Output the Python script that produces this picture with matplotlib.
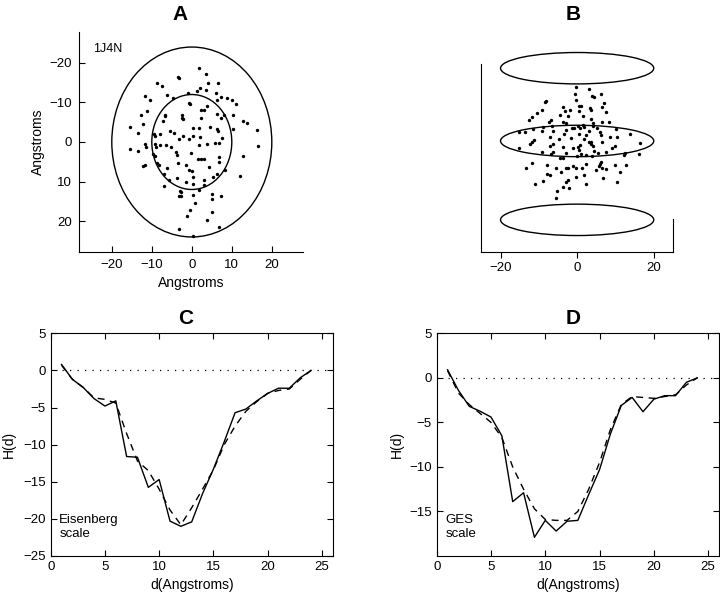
import matplotlib
matplotlib.use("Agg")
import matplotlib.pyplot as plt
from matplotlib.patches import Ellipse
import numpy as np

plt.rcParams['font.family'] = ['Liberation Sans', 'DejaVu Sans']

# panel A: projected residue positions (x, y) in Angstroms
a_x = [1.9, 3.6, -3.5, -8.6, -7.5, 4.0, 6.5, 2.1, 3.5, -6.3, 1.25, -0.9, 6.1, 7.25, 6.25,
       -11.6, -10.4, -4.6, 8.75, 10.0, 11.1, -0.4, -0.8, 2.4, 3.1, 3.75, 6.4, 8.1, 10.25,
       -11.1, -12.6, -6.8, -6.8, -7.1, -2.4, -2.4, -2.25, 2.2, 7.2, 12.7, 13.9, -12.1, -15.4,
       0.4, 1.8, 4.6, 6.4, 6.6, 10.4, 16.4, -5.4, -13.5, -4.4, -9.4, -7.9, -9.2, -2.25, 0.4,
       2.0, -0.7, -3.1, 7.6, -9.25, -8.9, -15.4, -13.4, -11.6, -11.4, -7.9, -6.5, -5.1, 1.8,
       3.75, 5.9, 6.7, 16.6, -4.0, -3.75, -0.25, -9.6, -9.3, 1.6, 2.4, 3.1, 6.8, 12.7, -3.5,
       -1.5, -8.75, -8.3, -11.8, -12.25, -6.25, 4.3, 6.8, 8.3, -0.6, 0.0, -7.0, 6.2, 5.4,
       12.1, 0.4, -3.75, 3.1, -1.4, 0.25, -5.6, -6.9, 3.1, -2.9, -2.6, 1.75, 0.4, 5.0, 5.1,
       7.25, -3.25, -2.8, 0.9, 5.1, -0.4, -1.25, 3.75, -3.1, 6.7, 0.2, -3.3]
a_y = [-18.8, -17.2, -16.4, -14.9, -14.2, -15.0, -14.9, -13.7, -13.2, -12.0, -12.9, -12.4,
       -12.4, -11.4, -10.7, -11.6, -10.7, -11.2, -11.2, -10.5, -9.7, -9.7, -9.9, -8.0, -8.0,
       -9.2, -7.1, -6.7, -6.7, -7.8, -6.9, -6.9, -6.5, -5.4, -6.9, -6.1, -5.7, -6.1, -6.1,
       -5.3, -4.9, -4.6, -3.9, -3.6, -3.6, -3.9, -3.4, -2.9, -3.4, -3.1, -2.9, -2.2, -2.2,
       -2.0, -1.9, -1.4, -1.4, -1.4, -1.2, -0.7, -0.8, -1.0, 0.5, 1.2, 1.7, 2.2, 0.5, 1.2,
       0.8, 0.7, 1.2, 0.8, 0.5, 0.3, 0.2, 1.0, 2.5, 3.2, 2.9, 3.1, 3.6, 4.4, 4.4, 4.4, 3.7,
       3.5, 5.4, 5.9, 5.4, 5.9, 5.9, 6.1, 6.6, 6.4, 5.1, 7.1, 7.1, 7.3, 8.1, 8.0, 8.8, 8.6,
       8.8, 9.2, 9.7, 10.2, 10.5, 9.5, 11.2, 10.9, 12.4, 12.7, 12.2, 13.4, 13.1, 14.4, 13.6,
       13.6, 13.6, 15.3, 17.6, 17.1, 18.7, 19.6, 22.0, 21.4, 23.7, -16.3]

# panel B: same residues seen from the side (x, z)
b_x = [-0.35, 3.0, -0.5, 6.3, 3.8, 4.3, -0.2, -8.2, -8.5, 7.1, 0.4, 1.0, -3.65, 6.6, -9.2,
       -1.8, 3.3, 3.6, -3.3, 0.5, -10.5, 7.5, -4.5, -2.4, -11.7, -12.7, 1.5, 3.7, -6.8, -7.3,
       -3.8, -2.96, 4.1, 6.6, 8.3, 0.35, 1.6, -6.6, -9.0, -1.3, -0.8, 0.7, 1.7, 5.2, 4.2,
       10.2, -13.7, -15.3, -11.4, -9.2, -6.3, -2.8, 3.1, 5.9, 13.7, -3.5, 0.4, 2.3, 6.2, 8.5,
       10.4, -7.1, -11.8, -12.3, -11.3, -4.7, -1.6, 1.9, 3.1, 3.65, 3.5, 6.5, 0.8, 16.5, -6.4,
       -7.0, -3.6, -1.2, 0.35, 0.5, 9.9, 9.2, -15.3, 4.2, 1.0, -9.2, -6.3, -6.8, 4.5, 5.4,
       -2.8, -0.1, 2.4, 7.6, 12.5, 12.2, 16.2, -4.4, -3.7, 3.8, -11.9, -8.0, -13.4, 6.3, 5.9,
       5.6, 9.9, 12.7, -1.2, 2.3, -5.4, -2.9, -2.3, -0.35, 1.3, 5.0, 6.6, 7.5, 11.1, -4.3,
       -7.8, -7.0, -0.35, 1.8, 6.8, -2.3, -2.8, -9.0, -11.1, 2.4, 10.4, -3.65, -2.2, -5.2,
       -5.4]
b_z = [14.1, 13.7, 12.3, 12.2, 11.7, 11.5, 10.6, 10.4, 10.1, 9.8, 9.2, 9.2, 9.0, 8.9, 8.2,
       8.2, 8.5, 8.0, 7.7, 7.7, 7.3, 7.5, 6.7, 6.5, 6.3, 5.4, 6.4, 5.7, 5.6, 4.9, 4.9, 4.6,
       4.7, 4.9, 4.9, 4.0, 4.2, 4.0, 3.7, 3.3, 3.3, 3.5, 3.7, 3.4, 4.0, 3.2, 2.3, 2.4, 3.1,
       2.6, 2.7, 2.9, 2.7, 2.3, 1.8, 1.7, 1.7, 1.6, 1.65, 1.0, 1.0, 1.0, -0.35, -0.7, 0.2,
       0.5, 0.7, 0.5, -0.35, -0.35, -0.9, -0.35, -1.1, -0.5, -0.9, -1.2, -1.7, -1.9, -1.65,
       -2.3, -1.4, -1.8, -1.9, -1.2, -3.3, -2.8, -3.0, -3.3, -2.6, -3.1, -3.1, -3.8, -3.7,
       -3.0, -3.1, -3.65, -3.3, -4.5, -4.5, -4.0, -5.7, -6.3, -7.1, -5.4, -5.9, -6.6, -6.3,
       -6.3, -6.6, -5.9, -7.0, -7.0, -7.0, -7.1, -7.1, -7.7, -7.1, -7.3, -8.0, -8.2, -8.5,
       -9.0, -9.4, -9.0, -9.6, -10.1, -10.8, -10.4, -11.3, -11.3, -10.8, -12.0, -12.3,
       -13.1, -15.0]

# membrane boundaries
a_rx = [20, 10]
a_ry = [24, 12]
b_levels = [19.0, 0.0, -20.6]
b_radius = 20

# hydrophobicity profiles
d = list(range(1, 25))
eis_raw = [0.8, -1.2, -2.3, -3.8, -4.8, -4.1, -11.6, -11.7, -15.75, -14.7, -20.3, -21.0,
           -20.4, -16.6, -13.3, -9.6, -5.7, -5.2, -4.1, -3.1, -2.4, -2.4, -1.0, 0.0]
eis_fit = [0.7, -1.2, -2.3, -3.7, -3.9, -4.4, -8.5, -12.2, -13.5, -16.0, -18.8, -20.8,
           -18.5, -16.0, -13.4, -10.0, -7.5, -5.5, -4.2, -3.1, -2.7, -2.5, -1.2, 0.0]
ges_raw = [0.9, -1.4, -3.2, -3.75, -4.4, -6.5, -13.9, -12.9, -17.9, -16.0, -17.2, -16.1,
           -16.0, -13.1, -10.3, -6.3, -3.1, -2.2, -3.8, -2.4, -2.0, -2.0, -0.5, 0.0]
ges_fit = [0.8, -1.7, -3.0, -4.0, -5.0, -6.7, -10.0, -12.5, -14.7, -15.9, -16.0, -16.0,
           -15.0, -12.5, -9.5, -5.8, -3.0, -2.1, -2.2, -2.3, -2.1, -1.9, -0.8, 0.0]

W, H = 720, 597
fig = plt.figure(figsize=(7.2, 5.97), dpi=100)


def box(l, r, t, b):
    return [l / W, (H - b) / H, (r - l) / W, (b - t) / H]


# ---- A
axA = fig.add_axes(box(79, 303, 32, 252))
axA.scatter(a_x, a_y, s=6, c='k', linewidths=0)
for rx, ry in zip(a_rx, a_ry):
    axA.add_patch(Ellipse((0, 0), 2 * rx, 2 * ry, fill=False, ec='k', lw=1.0))
axA.set_xlim(-28.2, 27.8)
axA.set_ylim(27.8, -27.8)
axA.set_xticks([-20, -10, 0, 10, 20])
axA.set_yticks([-20, -10, 0, 10, 20])
axA.spines['top'].set_visible(False)
axA.spines['right'].set_visible(False)
axA.tick_params(direction='in', length=4, labelsize=9.5, pad=5)
axA.text(-24.8, -23.5, '1J4N', fontsize=9, va='center', ha='left')
axA.set_xlabel('Angstroms', fontsize=10)
axA.set_ylabel('Angstroms', fontsize=10)
axA.xaxis.set_label_coords(0.5, -0.11)
axA.yaxis.set_label_coords(-0.152, 0.5)

# ---- B
axB = fig.add_axes(box(481, 673.3, 64, 252))
axB.scatter(b_x, b_z, s=6, c='k', linewidths=0)
for z in b_levels:
    axB.add_patch(Ellipse((0, z), 2 * b_radius, 8.2, fill=False, ec='k', lw=1.0,
                          clip_on=False))
axB.set_xlim(-25.1, 25.1)
axB.set_ylim(-29.0, 20.1)
axB.set_xticks([-20, 0, 20])
axB.set_yticks([])
axB.spines['top'].set_visible(False)
axB.spines['right'].set_bounds(-29.0, -20.3)
axB.tick_params(axis='x', direction='out', length=4, labelsize=9.5, pad=3)

# ---- C and D
for rect, raw, fit, ylo, yt, name, ylx in [
        (box(50.7, 332.7, 333.3, 556), eis_raw, eis_fit, -25, range(-25, 6, 5),
         'Eisenberg\nscale', -0.125),
        (box(436.7, 719, 333.3, 556), ges_raw, ges_fit, -20, range(-15, 6, 5),
         'GES\nscale', -0.115)]:
    ax = fig.add_axes(rect)
    ax.plot(d, raw, color='k', lw=1.0)
    ax.plot(d, fit, color='k', lw=1.0, linestyle=(0, (5, 4)))
    ax.plot([1, 25.8], [0, 0], color='k', lw=0.9, linestyle=(0, (1, 5)))
    ax.set_xlim(0, 26)
    ax.set_ylim(ylo, 5)
    ax.set_xticks([0, 5, 10, 15, 20, 25])
    ax.set_yticks(list(yt))
    ax.tick_params(direction='in', length=4, labelsize=9.5, pad=3.5,
                   top=True, right=True)
    ax.set_xlabel('d(Angstroms)', fontsize=10)
    ax.set_ylabel('H(d)', fontsize=10)
    ax.xaxis.set_label_coords(0.5, -0.1)
    ax.yaxis.set_label_coords(ylx, 0.5)
    ax.text(0.03, 0.13, name, transform=ax.transAxes, fontsize=9.5,
            va='center', ha='left', linespacing=1.2)

for lab, x, y in [('A', 180, 14), ('B', 573, 15), ('C', 186, 319), ('D', 573, 318)]:
    fig.text(x / W, 1 - y / H, lab, fontsize=15, fontweight='bold',
             ha='center', va='center')

fig.savefig('out.png', dpi=100)
